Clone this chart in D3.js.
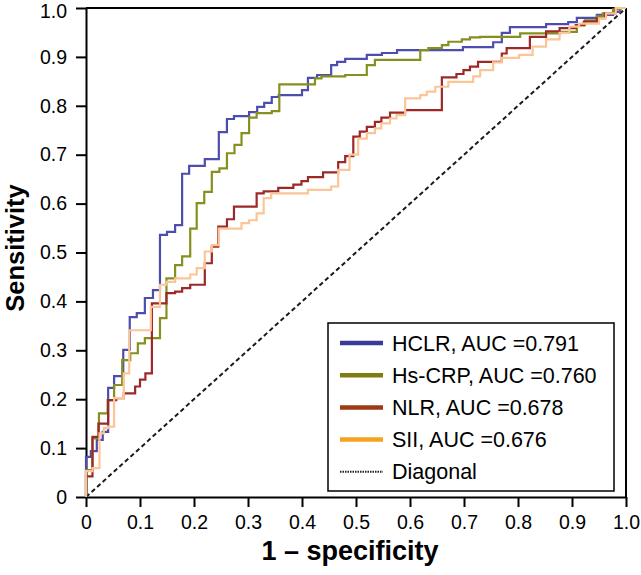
<!DOCTYPE html>
<html>
<head>
<meta charset="utf-8">
<script src="https://cdn.jsdelivr.net/npm/d3@7"></script>
<style>
  body { margin: 0; background: #ffffff; }
  svg { display: block; }
</style>
</head>
<body>
<div id="chart"></div>
<script>

var tickValues = [0, 0.1, 0.2, 0.3, 0.4, 0.5, 0.6, 0.7, 0.8, 0.9, 1.0];
var tickLabels = ["0", "0.1", "0.2", "0.3", "0.4", "0.5", "0.6", "0.7", "0.8", "0.9", "1.0"];

var seriesNames = ["HCLR, AUC =0.791", "Hs-CRP, AUC =0.760", "NLR, AUC =0.678", "SII, AUC =0.676", "Diagonal"];

// ROC steps: each point is (fpr, tpr) reached after a rise then a run
var hclrFpr = [0, .009, .020, .031, .041, .052, .069, .081, .094, .109, .124, .137, .150, .165, .178, .191, .220, .246, .261, .274, .302, .317, .330, .344, .357, .400, .411, .428, .454, .465, .480, .520, .548, .576, .698, .754, .770, .785, .852, .893, .909, .946, .976, .989, 1];
var hclrTpr = [0, .082, .094, .117, .133, .223, .247, .301, .368, .376, .407, .423, .536, .542, .556, .661, .677, .691, .746, .773, .779, .787, .798, .806, .818, .822, .832, .857, .863, .883, .890, .896, .904, .908, .914, .920, .930, .949, .961, .967, .971, .980, .986, .992, 1];

var crpFpr = [0, .012, .024, .040, .052, .067, .082, .096, .109, .137, .149, .165, .178, .193, .205, .219, .233, .247, .261, .275, .288, .302, .316, .344, .358, .424, .436, .480, .520, .535, .619, .634, .659, .671, .696, .711, .730, .804, .825, .878, .909, .924, .946, .957, .976, .990, 1];
var crpTpr = [0, .055, .120, .171, .198, .229, .280, .294, .314, .325, .366, .447, .474, .492, .549, .601, .624, .665, .672, .703, .720, .744, .776, .785, .789, .844, .856, .860, .863, .883, .894, .914, .918, .924, .931, .936, .940, .941, .948, .948, .951, .965, .975, .983, .989, .997, 1];

var nlrFpr = [0, .012, .023, .041, .056, .070, .091, .100, .110, .122, .149, .165, .178, .193, .220, .233, .245, .261, .274, .316, .329, .356, .384, .399, .411, .439, .467, .480, .495, .507, .520, .535, .547, .563, .591, .659, .686, .699, .711, .726, .770, .779, .822, .852, .877, .907, .922, .946, .961, .980, 1];
var nlrTpr = [0, .042, .123, .150, .198, .202, .212, .226, .240, .253, .396, .417, .420, .427, .434, .478, .512, .553, .568, .594, .621, .625, .632, .639, .646, .654, .664, .685, .697, .737, .747, .757, .767, .776, .786, .791, .858, .865, .873, .880, .890, .907, .918, .941, .952, .959, .965, .972, .979, .989, 1];

var siiFpr = [0, .012, .025, .033, .041, .052, .070, .080, .120, .137, .149, .165, .193, .205, .220, .233, .246, .288, .302, .316, .329, .343, .411, .454, .467, .488, .504, .520, .535, .547, .563, .575, .591, .619, .631, .647, .671, .717, .730, .754, .770, .802, .827, .852, .877, .895, .913, .950, .963, .981, 1];
var siiTpr = [0, .053, .059, .130, .141, .144, .202, .253, .341, .389, .434, .440, .447, .455, .468, .502, .515, .549, .560, .566, .580, .611, .621, .628, .635, .669, .700, .733, .744, .754, .764, .774, .781, .815, .822, .829, .839, .849, .860, .873, .889, .898, .904, .921, .936, .949, .962, .968, .979, .989, 1];

var diagonal = [0, 1];

var curveColors = ["#4d4db0", "#85901f", "#9c2828", "#fcc597"];
var legendColors = ["#3a3a98", "#7d7d12", "#9e3a16", "#f7a21e"];

var W = 641, H = 575;
var margin = {top: 8, right: 15, bottom: 78, left: 86};
var width = W - margin.left - margin.right;
var height = H - margin.top - margin.bottom;

var svg = d3.select("#chart").append("svg")
    .attr("width", W).attr("height", H)
    .style("background", "#ffffff");
var g = svg.append("g").attr("transform", "translate(" + margin.left + "," + margin.top + ")");

var x = d3.scaleLinear().domain([0, 1]).range([0, width]);
var y = d3.scaleLinear().domain([0, 1]).range([height, 0]);

var font = "'Liberation Sans', Arial, sans-serif";

// frame (top and right)
g.append("line").attr("x1", 0).attr("x2", width).attr("y1", 0).attr("y2", 0)
    .attr("stroke", "#000").attr("stroke-width", 2);
g.append("line").attr("x1", width).attr("x2", width).attr("y1", 0).attr("y2", height)
    .attr("stroke", "#000").attr("stroke-width", 2);

var xAxis = g.append("g").attr("transform", "translate(0," + height + ")")
    .call(d3.axisBottom(x).tickValues(tickValues).tickFormat(function (d, i) { return tickLabels[i]; })
        .tickSize(10).tickSizeOuter(0).tickPadding(8));
var yAxis = g.append("g")
    .call(d3.axisLeft(y).tickValues(tickValues).tickFormat(function (d, i) { return tickLabels[i]; })
        .tickSize(10).tickSizeOuter(0).tickPadding(9));

[xAxis, yAxis].forEach(function (ax) {
    ax.select(".domain").attr("stroke", "#000").attr("stroke-width", 2);
    ax.selectAll(".tick line").attr("stroke", "#000").attr("stroke-width", 2);
    ax.selectAll(".tick text").attr("fill", "#000").style("font-family", font).style("font-size", "19.5px");
});
// top label sits a little lower, as in the original
yAxis.selectAll(".tick text").filter(function (d) { return d === 1; }).attr("dy", "0.47em");

// diagonal
g.append("line")
    .attr("x1", x(diagonal[0])).attr("y1", y(diagonal[0]))
    .attr("x2", x(diagonal[1])).attr("y2", y(diagonal[1]))
    .attr("stroke", "#1a1a1a").attr("stroke-width", 2).attr("stroke-dasharray", "4.5,3");

var line = d3.line()
    .x(function (d) { return x(d[0]); })
    .y(function (d) { return y(d[1]); })
    .curve(d3.curveStepBefore);

var series = [[hclrFpr, hclrTpr], [crpFpr, crpTpr], [nlrFpr, nlrTpr], [siiFpr, siiTpr]];
series.forEach(function (s, k) {
    var pts = s[0].map(function (v, i) { return [v, s[1][i]]; });
    g.append("path").attr("d", line(pts))
        .attr("fill", "none").attr("stroke", curveColors[k]).attr("stroke-width", 2.2);
});

// legend
var lg = svg.append("g").attr("transform", "translate(328,323)");
lg.append("rect").attr("width", 286).attr("height", 168)
    .attr("fill", "#fff").attr("stroke", "#000").attr("stroke-width", 1.5);
seriesNames.forEach(function (name, i) {
    var yy = 20 + i * 32.2;
    var l = lg.append("line").attr("x1", 12).attr("x2", 55).attr("y1", yy).attr("y2", yy);
    if (i < 4) {
        l.attr("stroke", legendColors[i]).attr("stroke-width", 4.5);
    } else {
        l.attr("stroke", "#222").attr("stroke-width", 2).attr("stroke-dasharray", "1.5,1");
    }
    lg.append("text").attr("x", 64).attr("y", yy).attr("dy", "0.35em")
        .style("font-family", font).style("font-size", "21.5px").attr("fill", "#000")
        .text(name);
});

// axis titles
svg.append("text")
    .attr("x", margin.left + width / 2 - 6).attr("y", 560)
    .attr("text-anchor", "middle")
    .style("font-family", font).style("font-size", "27px").style("font-weight", "bold")
    .text("1 \u2013 specificity");
svg.append("text")
    .attr("transform", "translate(24," + (248) + ") rotate(-90)")
    .attr("text-anchor", "middle")
    .style("font-family", font).style("font-size", "25.5px").style("font-weight", "bold")
    .text("Sensitivity");
</script>
</body>
</html>
